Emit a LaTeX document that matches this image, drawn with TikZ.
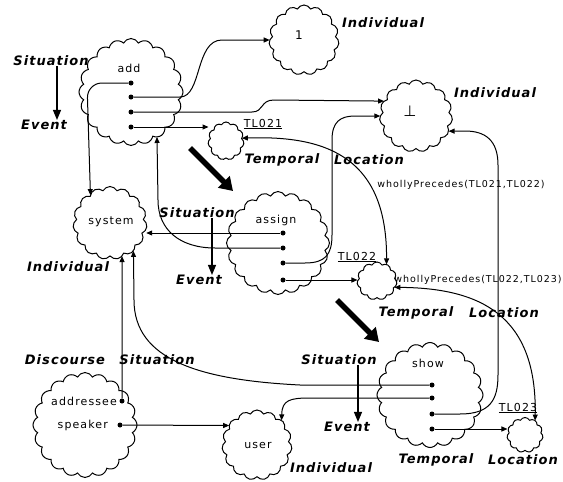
\documentclass[tikz,border=0pt]{standalone}
\usepackage{fontspec}
\setmainfont{DejaVu Sans}
\newfontfamily\lblfont[LetterSpace=8]{DejaVu Sans}
\newfontfamily\txtfont[LetterSpace=10]{DejaVu Sans}
\usetikzlibrary{shapes.symbols,arrows.meta}

\tikzset{
  cl/.style={cloud, draw, line width=1pt, cloud puffs=#1, cloud puff arc=125,
             cloud ignores aspect, inner sep=0pt, outer sep=0pt},
  dot/.style={circle, fill, inner sep=0pt, minimum size=5pt},
  txt/.style={font=\txtfont\fontsize{11}{11}\selectfont, inner sep=0pt},
  smalltxt/.style={font=\txtfont\fontsize{9.5}{9.5}\selectfont, inner sep=0pt},
  lbl/.style={font=\lblfont\bfseries\itshape\fontsize{13}{13}\selectfont, inner sep=0pt},
  wire/.style={line width=1pt},
  conn/.style={wire, -{Triangle[length=6pt,width=5pt]}},
  dconn/.style={wire, {Triangle[length=6pt,width=5pt]}-{Triangle[length=6pt,width=5pt]}},
  evtarrow/.style={line width=1.1pt, -{Triangle[length=10pt,width=8pt]}},
  bigarrow/.style={line width=5.5pt, -{Triangle[length=13pt,width=16pt]}},
}

\begin{document}
\begin{tikzpicture}[x=1pt, y=-1pt]
\path[use as bounding box] (0,0) rectangle (563,482);

% ---- clouds ----
\node[cl=20, minimum width=104pt, minimum height=107pt] (add)    at (131,92)  {};
\node[cl=15, minimum width=70pt,  minimum height=70pt]  (ind1)   at (304,40)  {};
\node[cl=15, minimum width=73pt,  minimum height=72pt]  (perp)   at (416,116) {};
\node[cl=11, minimum width=36pt,  minimum height=38pt]  (tl021)  at (226,141) {};
\node[cl=15, minimum width=74pt,  minimum height=73pt]  (sys)    at (110,223) {};
\node[cl=20, minimum width=103pt, minimum height=103pt] (assign) at (278,243) {};
\node[cl=11, minimum width=40pt,  minimum height=38pt]  (tl022)  at (377,281) {};
\node[cl=20, minimum width=106pt, minimum height=105pt] (show)   at (430,395) {};
\node[cl=11, minimum width=36pt,  minimum height=35pt]  (tl023)  at (525,435) {};
\node[cl=15, minimum width=70pt,  minimum height=70pt]  (user)   at (257,445) {};
\node[cl=20, minimum width=104pt, minimum height=105pt] (disc)   at (85,425)  {};

% ---- texts inside the clouds ----
\node[txt] (tadd)    at (129,68)  {add};
\node[txt, font=\txtfont\fontsize{12}{12}\selectfont] (tone) at (299,35) {1};
\node[txt, font=\txtfont\fontsize{15}{15}\selectfont] (tperp) at (410,111) {⊥};
\node[txt] (tsys)    at (111,222) {system};
\node[txt] (tassign) at (276,220) {assign};
\node[txt] (tshow)   at (428,363) {show};
\node[txt] (tuser)   at (258,445) {user};
\node[txt, anchor=east] (taddr) at (117,401) {addressee};
\node[txt, anchor=east] (tspk)  at (108,425) {speaker};

% ---- temporal location names ----
\node[txt] (n21) at (263,124) {\underline{TL021}};
\node[txt] (n22) at (357,257) {\underline{TL022}};
\node[txt] (n23) at (518,408) {\underline{TL023}};

% ---- role dots ----
\node[dot] (a1) at (131,83)  {};
\node[dot] (a2) at (131,97)  {};
\node[dot] (a3) at (131,112) {};
\node[dot] (a4) at (131,127) {};
\node[dot] (s1) at (283,233) {};
\node[dot] (s2) at (283,248) {};
\node[dot] (s3) at (283,263) {};
\node[dot] (s4) at (283,280) {};
\node[dot] (w1) at (432,385) {};
\node[dot] (w2) at (432,398) {};
\node[dot] (w3) at (432,414) {};
\node[dot] (w4) at (432,429) {};
\node[dot] (ad) at (122,401) {};
\node[dot] (sp) at (120,425) {};

% ---- type labels ----
\node[lbl] (sit1) at (51,61)   {Situation};
\node[lbl] (ev1)  at (44,125)  {Event};
\node[lbl] (i1)   at (383,23)  {Individual};
\node[lbl] (i2)   at (495,93)  {Individual};
\node[lbl] (tp1)  at (282,160) {Temporal};
\node[lbl] (lc1)  at (369,160) {Location};
\node[lbl] (sit2) at (197,213) {Situation};
\node[lbl] (ev2)  at (199,280) {Event};
\node[lbl] (i3)   at (68,267)  {Individual};
\node[lbl] (tp2)  at (416,313) {Temporal};
\node[lbl] (lc2)  at (504,313) {Location};
\node[lbl] (sit3) at (339,360) {Situation};
\node[lbl] (ev3)  at (347,427) {Event};
\node[lbl] (tp3)  at (436,460) {Temporal};
\node[lbl] (lc3)  at (523,460) {Location};
\node[lbl] (i4)   at (331,468) {Individual};
\node[lbl] (dsc)  at (65,360)  {Discourse};
\node[lbl] (sit4) at (157,360) {Situation};

% ---- relation labels ----
\node[smalltxt] (wp1) at (461,185) {whollyPrecedes(TL021,TL022)};
\node[smalltxt] (wp2) at (478,280) {whollyPrecedes(TL022,TL023)};

% ---- situation -> event arrows ----
\draw[evtarrow] (sit1.south -| 57,0) -- (ev1.north -| 57,0);
\draw[evtarrow] (sit2.south -| 212,0) -- (ev2.north -| 212,0);
\draw[evtarrow] (sit3.south -| 358,0) -- (ev3.north -| 358,0);

% ---- sequence arrows between situations ----
\coordinate (b1s) at (190,148);
\coordinate (b1e) at (233,191);
\coordinate (b2s) at (337,300);
\coordinate (b2e) at (379,342);
\draw[bigarrow] (b1s) -- (b1e);
\draw[bigarrow] (b2s) -- (b2e);

% ---- add ----
\draw[conn, rounded corners=15pt] (a1) -- (87,83) -- (sys.125);
\draw[conn] (a2) -- (180,97) .. controls (202,97) and (195,40) .. (222,40) -- (ind1.west);
\draw[conn] (a3) -- (252,112) .. controls (264,112) and (260,100) .. (274,100) -- (perp.155);
\draw[conn] (a4) -- (a4 -| tl021.west);

% ---- assign ----
\draw[conn] (s1) -- (s1 -| sys.east);
\draw[conn] (s2) -- (215,248) .. controls (180,248) and (158,230) .. (158,200) -- (add.-60);
\draw[conn] (s3) -- (305,263) .. controls (325,263) and (332,255) .. (332,235)
            -- (332,140) .. controls (332,122) and (340,116) .. (355,116) -- (perp.west);
\draw[conn] (s4) -- (s4 -| tl022.west);

% ---- show ----
\draw[conn] (w1) -- (300,385) .. controls (200,380) and (134,360) .. (134,300) -- (sys.-50);
\draw[conn] (w2) -- (310,398) .. controls (290,398) and (282,400) .. (user.45);
\draw[conn] (w3) -- (460,414) .. controls (490,414) and (498,400) .. (498,375)
            -- (498,165) .. controls (498,140) and (485,131) .. (465,131) -- (perp.-25);
\draw[conn] (w4) -- (w4 -| tl023.west);

% ---- discourse situation ----
\draw[conn] (ad) -- (sys.-70);
\draw[conn] (sp) -- (user.145);

% ---- temporal ordering ----
\draw[dconn] (tl021.10) .. controls (330,135) and (387,160) .. (tl022.60);
\draw[dconn] (tl022.-20) .. controls (480,288) and (537,315) .. (tl023.55);

\end{tikzpicture}
\end{document}
